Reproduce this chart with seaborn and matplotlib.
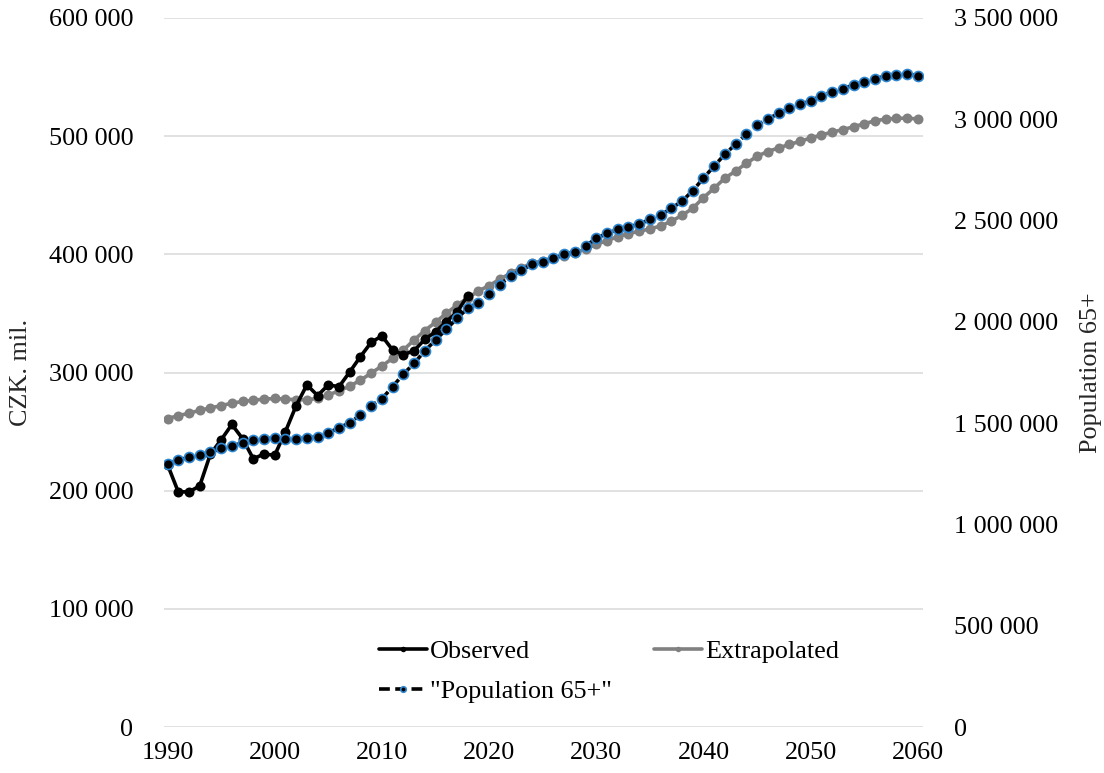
import matplotlib
matplotlib.use("Agg")
import matplotlib.pyplot as plt
from matplotlib.ticker import FuncFormatter, FixedLocator
import seaborn as sns
import pandas as pd

# Observed expenditure, CZK mil. (1990-2018)
observed_years = list(range(1990, 2019))
observed = [222000, 199000, 199000, 204000, 231000, 243000, 256000, 244000, 227000, 231000,
            230000, 250000, 272000, 289500, 280500, 289500, 288000, 300500, 313500, 325500,
            331000, 319000, 315000, 318500, 328000, 334500, 343000, 351000, 365000]

# Extrapolated expenditure, CZK mil. (1990-2060)
years = list(range(1990, 2061))
extrapolated = [261000, 263500, 265500, 268000, 270000, 272000, 274000, 275500, 276500, 277500,
                278000, 277500, 277000, 277000, 278000, 281000, 284500, 288500, 293500, 299500,
                305500, 312000, 319000, 327500, 335500, 342500, 350000, 357000, 363000, 369000,
                373500, 379000, 384000, 388500, 392500, 394500, 397000, 398500, 401000, 404500,
                408500, 411500, 415000, 417500, 419500, 421500, 424000, 428000, 433000, 439000,
                448000, 456000, 464500, 470500, 477000, 483000, 487000, 490000, 493000, 495500,
                498500, 501000, 503500, 505500, 508000, 510500, 513000, 514500, 515000, 515300,
                514500]

# Population aged 65+ (1990-2060)
population65 = [1298000, 1318000, 1331000, 1342000, 1356000, 1375000, 1387000, 1403000, 1416000, 1423000,
                1426000, 1421000, 1423000, 1426000, 1433000, 1452000, 1477000, 1502000, 1540000, 1586000,
                1620000, 1680000, 1742000, 1795000, 1857000, 1910000, 1963000, 2017000, 2067000, 2095000,
                2139000, 2184000, 2224000, 2255000, 2284000, 2294000, 2313000, 2333000, 2346000, 2375000,
                2412000, 2437000, 2456000, 2469000, 2482000, 2506000, 2527000, 2560000, 2596000, 2647000,
                2710000, 2769000, 2828000, 2877000, 2927000, 2971000, 3001000, 3029000, 3054000, 3073000,
                3091000, 3116000, 3136000, 3150000, 3170000, 3185000, 3198000, 3215000, 3220000, 3223000,
                3215000]

x_ticks = [1990, 2000, 2010, 2020, 2030, 2040, 2050, 2060]
left_ticks = [0, 100000, 200000, 300000, 400000, 500000, 600000]
right_ticks = [0, 500000, 1000000, 1500000, 2000000, 2500000, 3000000, 3500000]

sns.set_theme(style="white")
plt.rcParams["font.family"] = ["Liberation Serif", "DejaVu Serif"]
plt.rcParams["text.color"] = "black"

obs_df = pd.DataFrame({"year": observed_years, "value": observed})
proj_df = pd.DataFrame({"year": years, "extrapolated": extrapolated, "pop": population65})

fig = plt.figure(figsize=(11.04, 7.73), dpi=100)
ax = fig.add_axes([164 / 1104, 46 / 773, 759 / 1104, 709 / 773])
ax2 = ax.twinx()

FS = 18.8
lw = 2.6
ms = 7.2

sns.lineplot(data=proj_df, x="year", y="extrapolated", ax=ax, color="#808080",
             linewidth=lw, marker="o", markersize=ms, markeredgewidth=0,
             label="Extrapolated", legend=False, zorder=2)
sns.lineplot(data=obs_df, x="year", y="value", ax=ax, color="black",
             linewidth=lw, marker="o", markersize=ms, markeredgewidth=0,
             label="Observed", legend=False, zorder=3)
sns.lineplot(data=proj_df, x="year", y="pop", ax=ax2, color="black",
             linewidth=lw, linestyle=(0, (3, 1.5)), marker="o", markersize=ms,
             markerfacecolor="black", markeredgecolor="#2E86D1", markeredgewidth=1.2,
             label='"Population 65+"', legend=False, zorder=4)

x0, x1 = 1989.67, 2060.48
ax.set_xlim(x0, x1)
ax.set_ylim(0, 600000)
ax2.set_ylim(0, 3500000)

fmt = FuncFormatter(lambda v, p: f"{int(round(v)):,}".replace(",", " "))
ax.yaxis.set_major_locator(FixedLocator(left_ticks))
ax2.yaxis.set_major_locator(FixedLocator(right_ticks))
ax.yaxis.set_major_formatter(fmt)
ax2.yaxis.set_major_formatter(fmt)
ax.xaxis.set_major_locator(FixedLocator(x_ticks))

ax.grid(axis="y", color="#D9D9D9", linewidth=1.1)
ax.grid(axis="x", visible=False)
ax2.grid(False)
ax.set_axisbelow(True)

for a in (ax, ax2):
    for s in a.spines.values():
        s.set_visible(False)
    a.tick_params(length=0, labelsize=FS, colors="black")
ax.tick_params(axis="y", pad=22)
ax2.tick_params(axis="y", pad=22)
ax.tick_params(axis="x", pad=11)

ax.set_xlabel("")
ax.set_ylabel("CZK. mil.", fontsize=FS, labelpad=12)
ax2.set_ylabel("Population 65+", fontsize=FS, labelpad=16)

h_obs = ax.get_lines()[1]
h_ext = ax.get_lines()[0]
h_pop = ax2.get_lines()[0]
leg = ax2.legend([h_obs, h_pop, h_ext], ["Observed", '"Population 65+"', "Extrapolated"],
                 ncol=2, loc="center", bbox_to_anchor=(0.586, 0.078), frameon=False,
                 fontsize=FS, handlelength=1.85, handletextpad=0.12, columnspacing=1.6,
                 labelspacing=0.65, markerscale=0.55)

fig.savefig("out.png", dpi=100)
